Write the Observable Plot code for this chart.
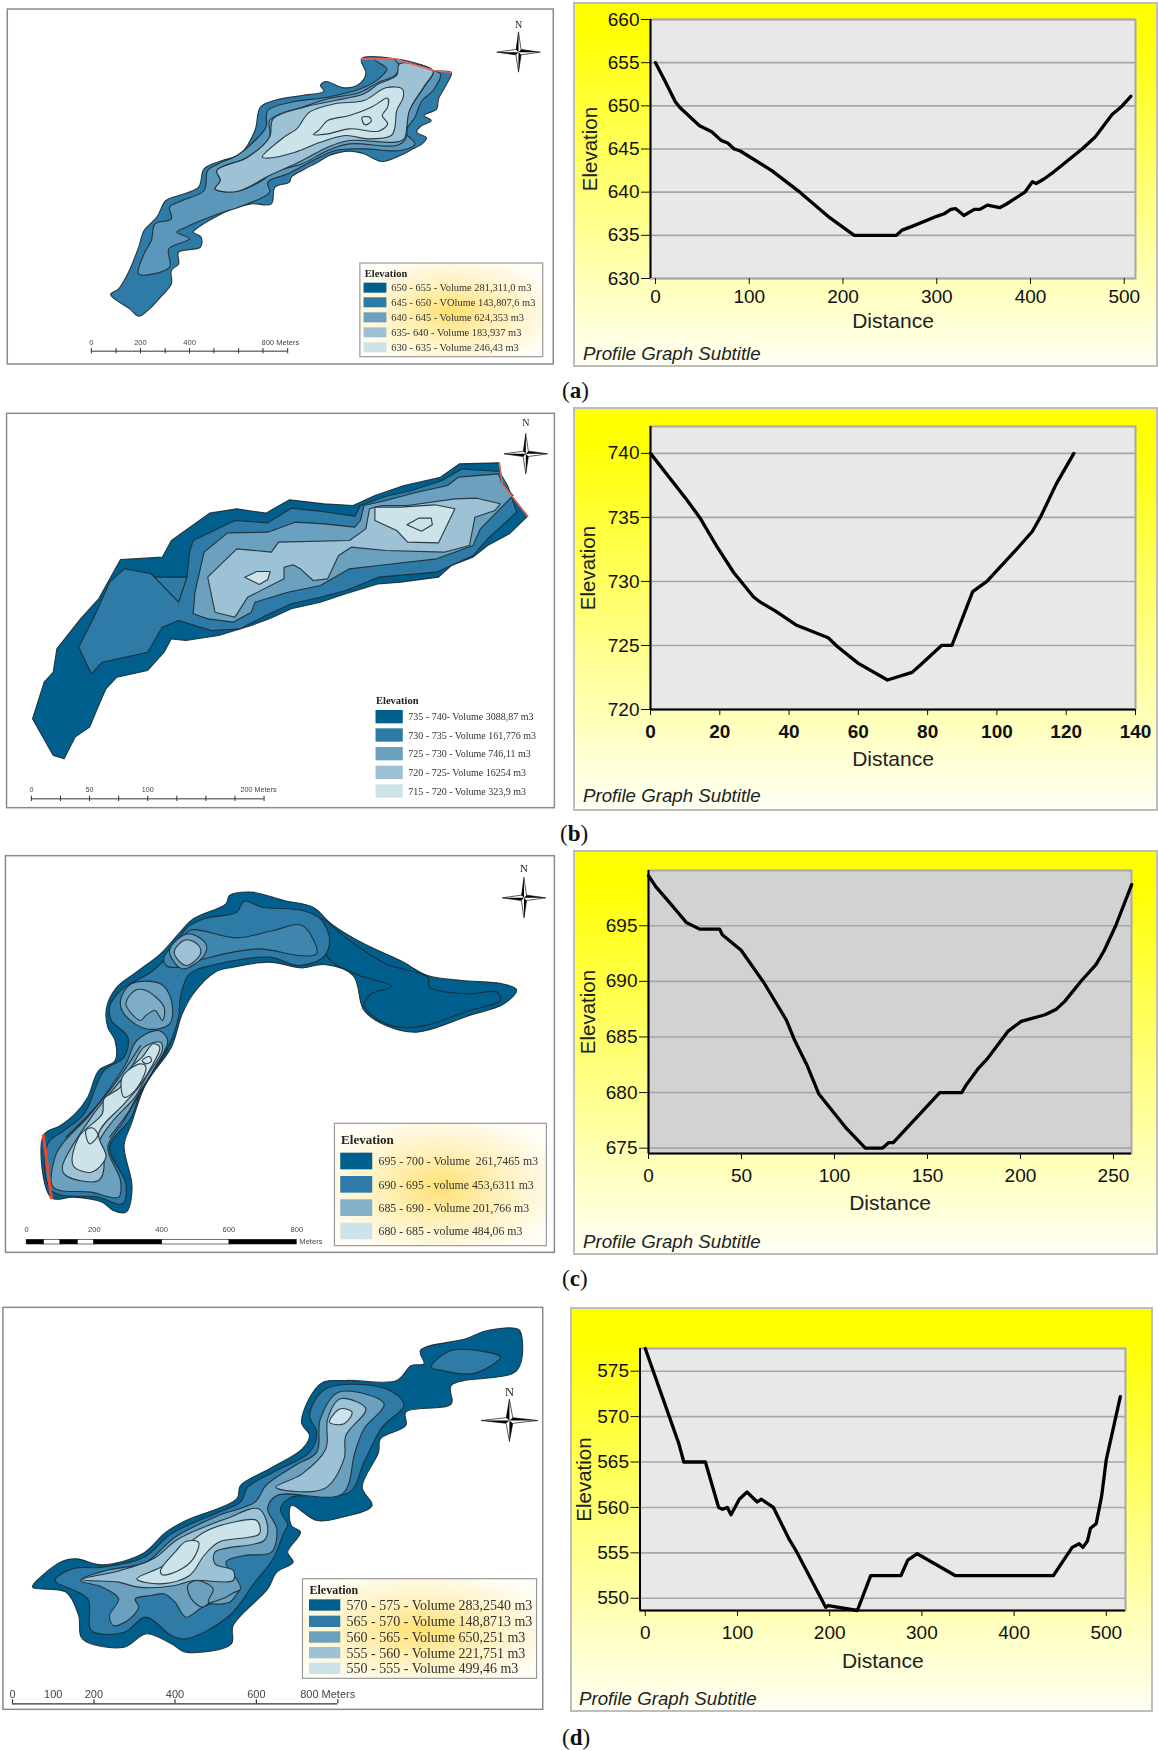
<!DOCTYPE html>
<html><head><meta charset="utf-8">
<script src="https://cdn.jsdelivr.net/npm/d3@7"></script>
<script src="https://cdn.jsdelivr.net/npm/@observablehq/plot@0.6"></script>
<style>
html,body{margin:0;padding:0;background:#fff;width:1158px;height:1751px;overflow:hidden}
.panel{position:absolute;box-sizing:border-box;border:2px solid #bdbdbd;background:linear-gradient(#ffff00 7%,#ffff66 45%,#fffff4 100%)}
.cap{position:absolute;font-family:"Liberation Serif",serif;font-size:23px;line-height:23px;color:#111}
.sub{position:absolute;font-family:"Liberation Sans",sans-serif;font-style:italic;font-size:18.7px;color:#222}
</style></head><body>
<script>
const C5=["#005f8c","#2d7ba6","#6ba0bf","#9dc2d6","#cde3ea"];
// ---------- profile data
const profA_dist=[0,10,21,26,47,60,70,77,84,90,124,154,184,212,257,263,275,300,308,315,320,329,340,346,354,367,374,394,402,406,414,423,455,469,487,497,507];
const profA_elev=[655,652.9,650.5,649.8,647.7,647,646,645.7,645,644.8,642.5,640,637.2,635,635,635.6,636.1,637.2,637.5,638,638.1,637.3,638,638,638.5,638.2,638.6,640,641.2,641,641.5,642.2,645,646.4,649,649.9,651.1];
const profB_dist=[0,10.4,14.2,19,24,29.7,31.6,36,42,51.3,54,60,68.4,75.5,78,84,87,93,97.1,105.3,110.2,112.7,117.1,122.2];
const profB_elev=[740,736.4,735,732.8,730.7,728.8,728.4,727.7,726.6,725.6,724.9,723.6,722.3,722.9,723.5,725,725,729.2,730,732.4,733.9,735.1,737.6,740];
const profC_dist=[0,4,10.2,16.3,20.3,27.5,38.2,39.7,49.8,62,74.2,78.3,85.4,91.5,105.8,116.6,125.7,129.2,131.6,156.6,168.4,170.5,177,182,193.2,200.4,213.2,219.3,223.8,233,240.6,245.1,251.2,259.8];
const profC_elev=[699.5,698.5,697.3,696.1,695.3,694.7,694.7,694.2,692.8,689.9,686.5,684.8,682.4,679.9,676.9,675,675,675.5,675.5,680,680,680.6,682.1,683,685.5,686.4,687,687.5,688.2,690.1,691.5,692.8,695,698.7];
const profD_dist=[0,36.5,41.8,65.2,79.6,83.7,89,93,102,110.3,121.4,126,139,155.5,163.7,195.7,198.5,230,244.5,277.3,284.7,295,336,442.6,463,470.5,474.6,479.5,482.8,489,495,500,515.2];
const profD_elev=[577.5,567,565,565,560,559.8,560,559.2,560.9,561.7,560.6,560.9,560,556.6,555.2,549,549.2,548.65,552.5,552.5,554.2,554.9,552.5,552.5,555.6,556,555.6,556.3,557.7,558.2,561.3,565.3,572.2];
const xTicksA=[0,100,200,300,400,500], yTicksA=[630,635,640,645,650,655,660];
const xTicksB=[0,20,40,60,80,100,120,140], yTicksB=[720,725,730,735,740];
const xTicksC=[0,50,100,150,200,250], yTicksC=[675,680,685,690,695];
const xTicksD=[0,100,200,300,400,500], yTicksD=[550,555,560,565,570,575];
// ---------- map contours (map units)
const aOuter=[[993,175],[1085,175],[1190,210],[1240,216],[1225,255],[1205,295],[1200,325],[1165,345],[1185,360],[1155,378],[1145,395],[1172,412],[1160,430],[1135,445],[1100,465],[1048,483],[1000,460],[960,452],[905,465],[870,487],[830,510],[800,530],[795,545],[755,560],[745,610],[690,610],[640,625],[590,650],[545,680],[530,695],[552,710],[550,740],[490,755],[490,790],[470,810],[470,850],[440,890],[410,925],[380,947],[355,925],[303,882],[325,865],[350,820],[380,740],[395,690],[430,650],[455,600],[490,585],[545,560],[560,505],[610,480],[660,460],[700,390],[715,320],[760,298],[830,285],[890,272],[880,255],[895,243],[945,262],[985,252],[1005,220]];
const aL2=[[1030,178],[1063,205],[1040,235],[990,265],[900,290],[800,305],[735,330],[730,380],[700,420],[650,465],[600,490],[570,510],[560,570],[500,600],[465,620],[470,655],[425,670],[415,720],[395,760],[380,820],[465,800],[463,745],[520,715],[485,695],[510,680],[600,640],[660,618],[740,575],[735,545],[790,520],[860,480],[920,450],[1000,445],[1100,450],[1140,430],[1115,395],[1140,350],[1160,300],[1190,270],[1210,220],[1190,210],[1085,177]];
const aL3=[[1085,178],[1098,195],[1085,225],[1040,245],[990,275],[900,295],[830,320],[770,340],[740,360],[740,410],[680,470],[595,510],[605,540],[590,565],[650,573],[720,540],[750,515],[830,490],[900,450],[960,430],[1090,435],[1115,415],[1120,340],[1165,260],[1190,212]];
const aL4=[[1098,190],[1190,212],[1165,258],[1125,330],[1110,415],[1085,425],[960,420],[900,440],[830,480],[740,525],[650,573],[590,565],[605,540],[595,510],[680,470],[740,410],[750,355],[835,320],[920,300],[1000,280],[1040,250],[1090,225]];
const aL5=[[1105,265],[1060,262],[1000,300],[920,310],[850,335],[815,385],[780,410],[720,470],[735,473],[810,455],[880,425],[950,405],[1010,415],[1075,405],[1085,380],[1090,330],[1108,290]];
const aL6=[[1065,293],[1020,320],[960,345],[900,360],[875,390],[860,402],[900,400],[960,385],[1040,392],[1065,370],[1050,345],[1065,320]];
const aL7=[[995,350],[1015,350],[1020,362],[1003,373],[995,360]];
const aRed=[[993,175],[1085,175],[1190,210],[1240,216]];

const bOuter=[[1372,172],[1380,235],[1450,332],[1400,385],[1340,420],[1300,455],[1240,480],[1205,515],[1100,530],[1040,535],[950,565],[880,590],[800,610],[740,640],[690,660],[600,690],[510,705],[470,700],[450,740],[405,795],[320,815],[290,850],[270,900],[245,965],[205,995],[175,1060],[145,1050],[88,940],[120,830],[145,800],[155,730],[220,640],[270,580],[330,462],[445,455],[470,405],[575,323],[650,310],[730,323],[795,283],[890,295],[970,300],[1030,270],[1110,240],[1210,215],[1262,175]];
const bL2=[[1372,198],[1270,190],[1215,225],[1130,255],[1060,272],[990,300],[975,332],[885,318],[800,308],[735,352],[645,345],[530,405],[520,440],[513,515],[425,515],[415,505],[340,490],[300,530],[255,640],[215,725],[250,805],[280,770],[405,740],[445,665],[490,645],[580,675],[660,670],[730,630],[800,595],[880,575],[950,555],[1040,515],[1200,500],[1300,450],[1340,400],[1420,320],[1395,240]];
const bL2b=[[415,505],[490,590],[513,515]];
const bL3=[[1370,205],[1260,215],[1230,240],[1140,262],[1060,285],[1000,300],[990,345],[975,365],[890,355],[810,350],[735,380],[625,382],[560,440],[535,560],[530,625],[570,640],[640,650],[690,620],[700,590],[790,560],[880,540],[960,490],[1040,480],[1200,460],[1300,420],[1320,370],[1410,270],[1378,230]];
const bL4=[[1375,295],[1310,278],[1250,280],[1120,300],[1050,300],[1015,310],[1005,370],[960,405],[765,410],[745,440],[650,430],[570,515],[590,620],[645,635],[680,575],[780,520],[780,485],[805,478],[825,490],[860,525],[900,520],[930,450],[965,425],[1060,435],[1220,440],[1290,420],[1305,335],[1360,315]];
const bL5=[[1030,305],[1030,345],[1090,375],[1120,410],[1205,412],[1250,310],[1195,298],[1100,305]];
const bL6=[[1118,358],[1150,338],[1185,338],[1188,358],[1158,377]];
const bL7=[[672,515],[705,498],[742,498],[735,522],[712,537]];
const bRed=[[1372,172],[1380,235],[1450,332]];

const cOuter=[[118,855],[165,825],[205,790],[240,740],[270,660],[315,630],[315,570],[295,530],[292,470],[320,410],[380,360],[440,310],[490,250],[530,205],[620,160],[630,135],[690,125],[780,150],[860,170],[910,220],[1000,280],[1100,330],[1175,375],[1270,390],[1380,400],[1420,418],[1385,460],[1290,495],[1145,545],[1060,525],[1000,480],[970,375],[890,342],[830,352],[740,335],[640,350],[590,365],[530,430],[500,490],[470,590],[400,700],[360,820],[340,885],[362,1010],[345,1085],[310,1080],[280,1055],[200,1040],[140,1042]];
const cEast=[[880,205],[960,270],[1060,340],[1175,380],[1180,410],[1280,430],[1365,425],[1375,450],[1290,480],[1145,530],[1060,520],[1000,465],[1020,430],[1075,408],[975,370],[900,320]];
const cL2=[[130,880],[175,840],[230,790],[285,660],[340,620],[350,560],[305,510],[300,470],[330,420],[420,360],[480,290],[510,235],[560,205],[650,185],[670,152],[720,170],[830,180],[880,205],[905,265],[890,318],[820,345],[740,320],[600,340],[520,370],[495,440],[490,500],[460,590],[400,680],[360,800],[300,890],[345,1000],[335,1060],[270,1040],[140,1020]];
const cArm=[[500,260],[525,238],[650,262],[750,240],[830,225],[870,310],[820,315],[710,295],[560,325],[490,350],[455,345],[450,320]];
const cHalo1=[[465,300],[515,250],[565,280],[560,315],[500,355]];
const cIsle1=[[478,305],[510,268],[545,285],[550,310],[510,345]];
const cHalo2=[[330,450],[360,400],[440,400],[470,450],[465,520],[400,535],[340,490]];
const cIsle2=[[345,460],[370,420],[400,420],[450,470],[445,510],[425,480],[400,495],[385,510]];
const cL3=[[150,920],[170,880],[240,800],[290,730],[345,640],[375,570],[435,540],[460,570],[420,660],[380,730],[340,810],[295,890],[330,990],[325,1040],[250,1025],[145,1010]];
const cL4=[[170,950],[250,800],[300,730],[360,650],[395,590],[440,575],[445,600],[400,680],[370,740],[310,810],[270,880],[285,930],[270,990],[180,975]];
const cL5=[[200,945],[215,860],[280,790],[285,745],[330,710],[360,650],[390,620],[420,580],[438,590],[420,640],[380,710],[340,760],[270,850],[290,920],[250,965]];
const cL6=[[335,680],[385,640],[400,650],[370,720],[340,740]];
const cL7=[[390,630],[410,618],[415,632],[400,640]];
const cL8=[[235,840],[252,832],[268,853],[245,880]];
const cExtra1=[[385,585],[340,660],[300,720],[245,790],[180,860]];
const cExtra2=[[460,595],[400,700],[355,780],[300,860]];
const cRed=[[118,855],[140,1042]];

const dOuter=[[88,875],[110,845],[175,795],[210,790],[280,808],[390,775],[455,710],[510,675],[650,610],[660,570],[740,520],[830,460],[850,420],[828,380],[880,265],[950,255],[1090,255],[1130,210],[1165,205],[1155,165],[1280,130],[1340,105],[1425,102],[1435,130],[1420,225],[1240,270],[1240,325],[1115,350],[1115,390],[1045,430],[1040,470],[995,575],[1022,630],[940,665],[870,675],[800,630],[800,690],[825,710],[790,770],[805,800],[760,830],[735,880],[640,990],[635,1045],[510,1070],[470,1045],[400,1015],[340,1055],[225,1030],[215,960],[180,890]];
const dNE=[[1185,215],[1240,165],[1375,185],[1350,210],[1295,235],[1215,225]];
const dL2=[[150,855],[200,820],[280,815],[395,785],[470,715],[600,650],[660,620],[680,575],[750,530],[850,470],[870,410],[850,360],[895,280],[1060,280],[1110,328],[1050,395],[1000,500],[960,590],[800,605],[770,640],[790,690],[780,710],[750,790],[700,860],[630,960],[510,1030],[470,1020],[400,965],[340,1010],[250,1005],[240,910]];
const dL3=[[220,855],[290,825],[400,800],[480,725],[600,660],[700,620],[730,570],[810,510],[870,470],[880,370],[930,290],[1055,325],[1000,400],[975,470],[940,595],[760,600],[735,640],[760,700],[745,770],[670,780],[620,800],[660,880],[555,935],[510,965],[480,920],[450,895],[415,900],[370,910],[380,935],[350,975],[310,990],[300,960],[325,910],[280,875]];
const dL4a=[[225,852],[330,825],[420,790],[490,730],[620,670],[710,640],[735,695],[725,735],[590,770],[590,805],[640,825],[640,855],[530,855],[480,870],[380,875],[325,860]];
const dL4b=[[757,575],[830,535],[895,460],[900,370],[935,310],[1005,340],[950,420],[945,490],[890,580]];
const dIsle=[[515,870],[540,855],[585,880],[572,920],[630,920],[650,895],[655,885],[620,905],[572,925],[555,935],[525,910]];
const dL5a=[[375,850],[450,810],[490,770],[560,710],[640,680],[705,675],[712,715],[600,740],[560,780],[520,840],[440,865]];
const dL6=[[440,825],[480,770],[510,738],[545,740],[530,790],[490,825],[445,838]];
const dL5b=[[905,380],[935,340],[967,350],[945,385]];
// ---------- compass glyph, legends, scale bars
const starBody=[[0,-60],[7,-8],[60,0],[7,8],[0,60],[-7,8],[-60,0],[-7,-8]];
const starHalves=[[[0,-60],[-7,-8],[0,0]],[[60,0],[7,-8],[0,0]],[[0,60],[7,8],[0,0]],[[-60,0],[-7,8],[0,0]]];
const legA=["650 - 655 - Volume 281,311,0 m3","645 - 650 - VOlume 143,807,6 m3","640 - 645 - Volume 624,353 m3","635- 640 - Volume 183,937 m3","630 - 635 - Volume 246,43 m3"];
const legB=["735 - 740- Volume 3088,87 m3","730 - 735 - Volume 161,776 m3","725 - 730 - Volume 746,11 m3","720 - 725- Volume 16254 m3","715 - 720 - Volume 323,9 m3"];
const legC=["695 - 700 - Volume  261,7465 m3","690 - 695 - volume 453,6311 m3","685 - 690 - Volume 201,766 m3","680 - 685 - volume 484,06 m3"];
const legD=["570 - 575 - Volume 283,2540 m3","565 - 570 - Volume 148,8713 m3","560 - 565 - Volume 650,251 m3","555 - 560 - Volume 221,751 m3","550 - 555 - Volume 499,46 m3"];

function poly(p,fill,curve){return Plot.line(p,{x:d=>d[0],y:d=>d[1],curve,fill,stroke:"#1c2b33",strokeWidth:1.1,strokeOpacity:.9});}
function open(p,stroke,w,curve="linear"){return Plot.line(p,{x:d=>d[0],y:d=>d[1],stroke,strokeWidth:w,curve});}

function mapPanel(c){
  const gid="lg"+c.id, H=c.h, curve=c.curve||"linear-closed";
  const marks=[];
  marks.push(()=>{const s=d3.create("svg:defs");const g=s.append("radialGradient").attr("id",gid).attr("cx","50%").attr("cy","52%").attr("r","60%");
    g.append("stop").attr("offset","0%").attr("stop-color","#ffe070");g.append("stop").attr("offset","45%").attr("stop-color","#fff0b8");g.append("stop").attr("offset","100%").attr("stop-color","#fffdf6");return s.node();});
  marks.push(Plot.rect([c.frame],{x1:d=>d[0],x2:d=>d[1],y1:d=>d[2],y2:d=>d[3],fill:"#fff",stroke:"#8a8a8a",strokeWidth:1.5}));
  c.layers.forEach(l=>marks.push(poly(l[0],l[1],curve)));
  (c.lines||[]).forEach(l=>marks.push(open(l,"#1c2b33",1.1,c.curve?"catmull-rom":"linear")));
  if(c.red) marks.push(open(c.red,c.redColor||"#e8625a",c.redW||1.6));
  // compass
  const sx=d=>c.star[0]+d[0]*c.star[2], sy=d=>c.star[1]+d[1]*c.star[3];
  marks.push(Plot.line(starBody,{x:sx,y:sy,curve:"linear-closed",fill:"#fff",stroke:"#111",strokeWidth:.7}));
  starHalves.forEach(h=>marks.push(Plot.line(h,{x:sx,y:sy,curve:"linear-closed",fill:"#000"})));
  marks.push(Plot.text(["N"],{x:c.star[0],y:c.star[4],fontFamily:"Liberation Serif",fontSize:c.nSize||10,fill:"#222"}));
  // scale bar
  const sb=c.scale;
  if(sb.segments){
    marks.push(Plot.rect(sb.segments,{x1:d=>d[0],x2:d=>d[1],y1:sb.y0,y2:sb.y1,fill:d=>d[2],stroke:"#111",strokeWidth:.6}));
  }else{
    marks.push(Plot.ruleY([sb.y],{x1:sb.ticks[0],x2:sb.ticks[sb.ticks.length-1],stroke:"#333",strokeWidth:sb.w||1}));
    marks.push(Plot.ruleX(sb.ticks,{y1:sb.t0,y2:sb.t1,stroke:"#333",strokeWidth:sb.w||1}));
  }
  marks.push(Plot.text(sb.labels,{x:d=>d[0],y:sb.ly,text:d=>d[1],textAnchor:d=>d[2]||"middle",fontFamily:"Liberation Sans",fontSize:sb.fs,fill:"#444"}));
  if(sb.meters) marks.push(Plot.text(["Meters"],{x:sb.meters[0],y:sb.meters[1],textAnchor:"start",fontFamily:"Liberation Sans",fontSize:sb.fs,fill:"#444"}));
  // legend
  const L=c.leg;
  if(L.box) marks.push(Plot.rect([L.box],{x1:d=>d[0],x2:d=>d[1],y1:d=>d[2],y2:d=>d[3],fill:`url(#${gid})`,stroke:"#9a9a9a",strokeWidth:1.2}));
  marks.push(Plot.text(["Elevation"],{x:L.titleX,y:L.titleY,textAnchor:"start",fontFamily:"Liberation Serif",fontWeight:"bold",fontSize:L.titleFs,fill:"#222"}));
  const rows=L.labels.map((t,i)=>({t,i,y:L.rowY[i],c:L.cols[i]}));
  marks.push(Plot.rect(rows,{x1:L.swatch[0],x2:L.swatch[1],y1:d=>d.y-L.sh/2,y2:d=>d.y+L.sh/2,fill:d=>d.c}));
  marks.push(Plot.text(rows,{x:L.textX,y:"y",text:"t",textAnchor:"start",fontFamily:"Liberation Serif",fontSize:L.fs,fill:"#333"}));
  const svg=Plot.plot({width:570,height:H,margin:0,style:{background:"transparent",overflow:"visible"},
    x:{domain:[0,1568],axis:null},y:{domain:[0,H*3],range:[0,H],axis:null},marks});
  svg.style.position="absolute";svg.style.left="0";svg.style.top=c.top+"px";svg.style.filter="blur(0.45px)";
  document.body.appendChild(svg);
}

function profilePanel(c){
  const box=document.createElement("div");box.className="panel";
  box.style.cssText=`left:${c.box[0]}px;top:${c.box[1]}px;width:${c.box[2]-c.box[0]}px;height:${c.box[3]-c.box[1]}px`;
  document.body.appendChild(box);
  const W=c.box[2]-c.box[0],H=c.box[3]-c.box[1];
  const data=c.dist.map((d,i)=>({d,e:c.elev[i]}));
  const F="Liberation Sans";
  const svg=Plot.plot({width:W,height:H,
    marginLeft:c.p[0]-c.box[0],marginRight:c.box[2]-c.p[1],marginTop:c.p[2]-c.box[1],marginBottom:c.box[3]-c.p[3],
    style:{background:"transparent",overflow:"visible"},
    x:{domain:c.xd},y:{domain:c.yd},
    marks:[
      Plot.frame({fill:c.bg,stroke:"#a8a8a8",strokeWidth:2}),
      Plot.gridY(c.yt,{stroke:"#a6a6a6",strokeOpacity:1,strokeWidth:1.6}),
      Plot.ruleX([c.xd[0]],{stroke:"#000",strokeWidth:2}),
      c.xLine?Plot.ruleY([c.yd[0]],{stroke:"#000",strokeWidth:2}):null,
      Plot.axisY(c.yt,{anchor:"left",tickSize:9,tickPadding:2,label:null,fontSize:19,fontFamily:F,fontVariant:"normal",stroke:"#111",fill:"#111",tickFormat:d=>d}),
      Plot.axisX(c.xt,{anchor:"bottom",tickSize:6,tickPadding:c.tp,label:null,fontSize:19,fontFamily:F,fontVariant:"normal",fontWeight:c.xBold?"bold":"normal",stroke:"#111",fill:"#111",tickFormat:d=>d}),
      Plot.line(data,{x:"d",y:"e",stroke:"#000",strokeWidth:3.3,strokeLinejoin:"round",strokeLinecap:"round"}),
      Plot.text(["Distance"],{frameAnchor:"bottom",dy:c.lab[0],fontFamily:F,fontSize:21,fill:"#222"}),
      Plot.text(["Elevation"],{frameAnchor:"left",textAnchor:"middle",dx:c.lab[1],rotate:-90,fontFamily:F,fontSize:20.5,fill:"#222"})
    ]});
  svg.style.position="absolute";svg.style.left=c.box[0]+"px";svg.style.top=c.box[1]+"px";
  document.body.appendChild(svg);
  const s=document.createElement("div");s.className="sub";s.textContent="Profile Graph Subtitle";
  s.style.left=c.sub[0]+"px";s.style.top=c.sub[1]+"px";document.body.appendChild(s);
}

mapPanel({id:"a",top:0,h:400,frame:[20,1522,27,1092],curve:"catmull-rom-closed",
  layers:[[aOuter,C5[1]],[aL2,"#5b97ba"],[aL3,C5[2]],[aL4,C5[3]],[aL5,C5[4]],[aL6,C5[4]],[aL7,C5[4]]],red:aRed,
  star:[1425,155,1,1,72],
  scale:{y:1052,t0:1044,t1:1060,ticks:[250,318,385,453,520,587,655,722,790],ly:1027,fs:7.6,labels:[[250,"0"],[385,"200"],[520,"400"],[770,"800 Meters","start"]]},
  leg:{box:[990,1493,789,1070],titleX:1002,titleY:820,titleFs:10.5,swatch:[1000,1063],rowY:[863,907,952,997,1042],sh:30,textX:1075,fs:10.4,cols:C5,labels:legA}});
mapPanel({id:"b",top:405,h:440,frame:[18,1525,25,1208],
  layers:[[bOuter,C5[0]],[bL2,C5[1]],[bL3,C5[2]],[bL4,C5[3]],[bL5,C5[4]],[bL6,C5[4]],[bL7,C5[4]]],lines:[bL2b],red:bRed,
  star:[1445,145,1,1,52],
  scale:{y:1180,t0:1172,t1:1188,ticks:[85,165,245,325,405,485,565,645,725],ly:1153,fs:7.2,labels:[[85,"0"],[245,"50"],[405,"100"],[710,"200 Meters","start"]]},
  leg:{titleX:1033,titleY:884,titleFs:10.5,swatch:[1033,1108],rowY:[935,990,1046,1102,1158],sh:40,textX:1122,fs:10,cols:C5,labels:legB}});
mapPanel({id:"c",top:850,h:440,frame:[15,1525,17,1207],curve:"catmull-rom-closed",
  layers:[[cOuter,C5[0]],[cEast,C5[0]],[cL2,C5[1]],[cArm,"#3f86af"],[cHalo1,C5[2]],[cIsle1,C5[3]],[cHalo2,C5[2]],[cIsle2,"#7fadc8"],[cL3,C5[2]],[cL4,C5[3]],[cL5,C5[4]],[cL6,C5[4]],[cL7,C5[4]],[cL8,C5[4]]],lines:[cExtra1,cExtra2],red:cRed,redColor:"#e8482c",redW:3,
  star:[1440,142,1,1,54],nSize:11,
  scale:{segments:[[72,120,"#000"],[120,165,"#fff"],[165,213,"#000"],[213,258,"#fff"],[258,445,"#000"],[445,630,"#fff"],[630,815,"#000"]],y0:1168,y1:1182,ly:1137,fs:7.6,meters:[822,1173],labels:[[72,"0"],[258,"200"],[443,"400"],[628,"600"],[815,"800"]]},
  leg:{box:[920,1503,820,1187],titleX:937,titleY:868,titleFs:13,swatch:[936,1024],rowY:[933,1003,1073,1143],sh:50,textX:1040,fs:11.8,cols:[C5[0],C5[1],"#84b0ca",C5[4]],labels:legC}});
mapPanel({id:"d",top:1295,h:456,frame:[8,1493,37,1243],curve:"catmull-rom-closed",
  layers:[[dOuter,C5[0]],[dNE,C5[1]],[dL2,C5[1]],[dL3,C5[2]],[dIsle,C5[2]],[dL4a,C5[3]],[dL4b,C5[3]],[dL5a,C5[4]],[dL6,C5[4]],[dL5b,C5[4]]],
  star:[1400,375,1.3,1.05,288],nSize:12.5,
  scale:{y:1225,t0:1213,t1:1225,w:1.2,ticks:[33,257,480,704,928],ly:1198,fs:11,labels:[[33,"0"],[145,"100"],[257,"200"],[480,"400"],[704,"600"],[900,"800 Meters","start"]]},
  leg:{box:[832,1476,851,1150],titleX:850,titleY:884,titleFs:12,swatch:[850,936],rowY:[930,979,1026,1073,1120],sh:34,textX:952,fs:14,cols:C5,labels:legD}});

profilePanel({box:[573,2,1158,367],p:[650,1135,19,278],xd:[-5.3,512],yd:[630,660],xt:xTicksA,yt:yTicksA,bg:"#e8e8e8",dist:profA_dist,elev:profA_elev,lab:[49.5,-60],tp:5,sub:[583,343]});
profilePanel({box:[573,407,1158,811],p:[650,1135,426,709],xd:[0,140],yd:[720,742.1],xt:xTicksB,yt:yTicksB,bg:"#e8e8e8",dist:profB_dist,elev:profB_elev,lab:[56,-62],tp:9,sub:[583,785],xBold:true,xLine:true});
profilePanel({box:[573,850,1158,1255],p:[648,1131,870,1153],xd:[0,259.7],yd:[674.52,699.97],xt:xTicksC,yt:yTicksC,bg:"#d2d2d2",dist:profC_dist,elev:profC_elev,lab:[56,-60],tp:9,sub:[583,1231],xLine:true});
profilePanel({box:[570,1307,1153,1712],p:[639.5,1125,1348,1610],xd:[-5.7,520.8],yd:[548.65,577.5],xt:xTicksD,yt:yTicksD,bg:"#e8e8e8",dist:profD_dist,elev:profD_elev,lab:[57.5,-55.5],tp:9,sub:[579,1688],xLine:true});

[["a",391,562],["b",834,560],["c",1279,562],["d",1738,562]].forEach(([t,y,x])=>{
  const e=document.createElement("div");e.className="cap";e.innerHTML=`(<b>${t}</b>)`;e.style.left=x+"px";e.style.top=(y-12)+"px";document.body.appendChild(e);
});
</script>
</body></html>
